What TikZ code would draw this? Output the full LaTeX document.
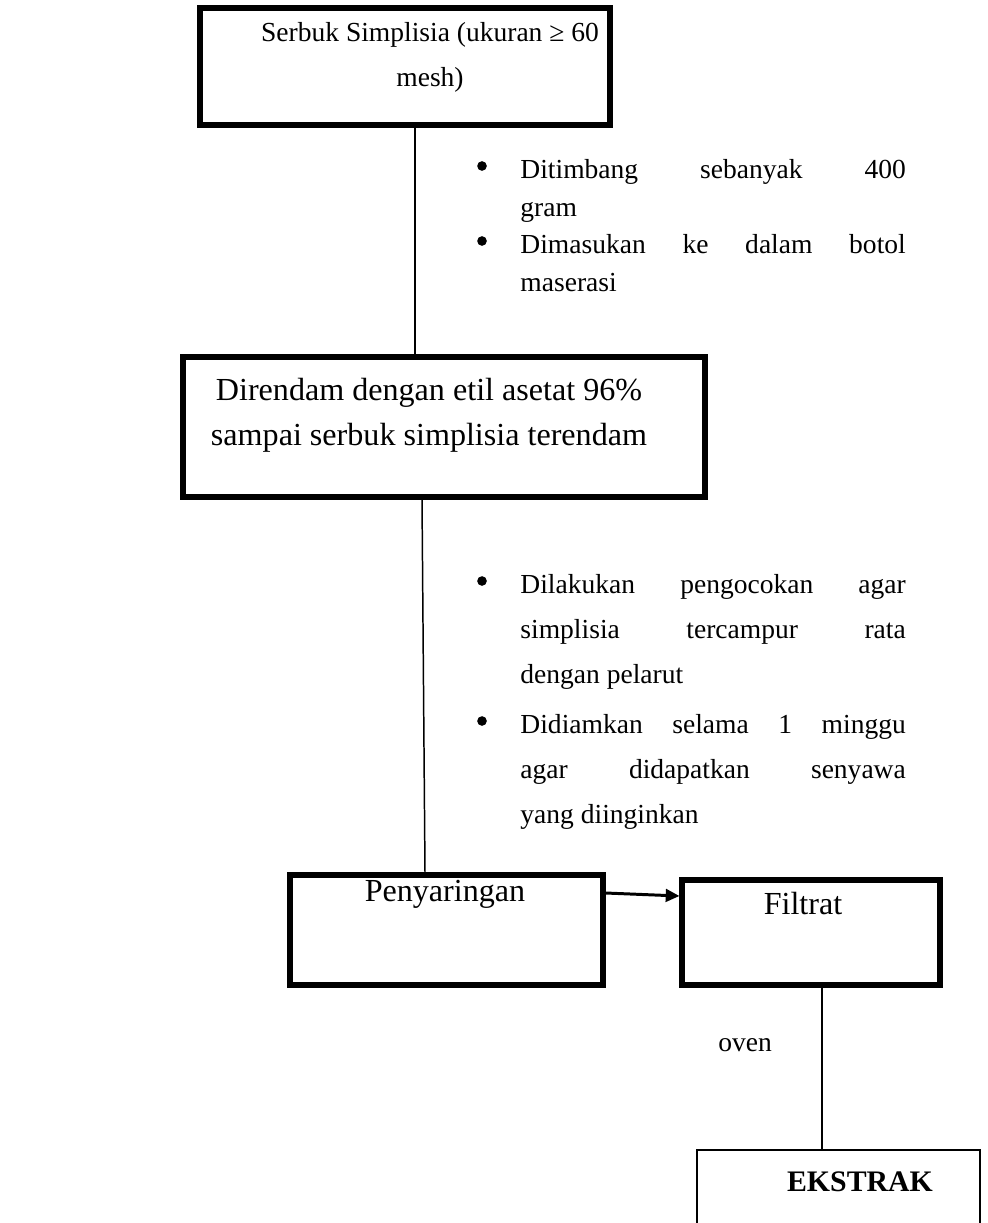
\documentclass[tikz,border=0pt]{standalone}
\usepackage{fontspec}
\setmainfont{Liberation Serif}
\usetikzlibrary{arrows.meta}
\newcommand{\px}{0.436pt}
\tolerance=10000
\hbadness=10000
\hyphenpenalty=10000
\tikzset{
  box/.style 2 args={draw, line width=2.2pt, minimum width=#1*\px, minimum height=#2*\px, inner sep=0pt},
  link/.style={line width=0.65pt},
  arrow/.style={-{Triangle[length=6pt, width=5.5pt]}, line width=1.3pt},
  txt/.style={align=center, inner sep=0pt, font=\fontsize{#1}{19.6}\selectfont},
  txt/.default=12,
}

\begin{document}
\begin{tikzpicture}[x=\px, y=-\px,
                    poin/.style={anchor=north west, inner sep=0pt, text width=168pt, align=justify,
                                 font=\fontsize{12}{#1}\selectfont},
                    dot/.style={circle, fill, inner sep=0pt, minimum size=4.2pt}]
  \useasboundingbox (0,0) rectangle (987,1223);
  % serbuk simplisia
  \node[box={410}{117}] (serbuk) at (405,66.5) {};
  \node[txt] (serbukT) at (430,57) {Serbuk Simplisia (ukuran ≥ 60\\mesh)};
  \node[dot] (d1) at (482,166) {};
  \node[poin=16.4pt] (p1) at (520,159) {Ditimbang sebanyak 400\linebreak gram};
  \node[dot] (d2) at (482,241) {};
  \node[poin=16.4pt] (p2) at (520,234) {Dimasukan ke dalam botol\linebreak maserasi};
  % perendaman
  \node[box={522}{140}] (rendam) at (444,427) {};
  \node[txt=14] (rendamT) at (429,415) {Direndam dengan etil asetat 96\%\\sampai serbuk simplisia terendam};
  \node[dot] (d3) at (482,581) {};
  \node[poin=19.6pt] (p3) at (520,574) {Dilakukan pengocokan agar\linebreak simplisia tercampur rata\linebreak dengan pelarut};
  \node[dot] (d4) at (482,721) {};
  \node[poin=19.6pt] (p4) at (520,714) {Didiamkan selama 1 minggu\linebreak agar didapatkan senyawa\linebreak yang diinginkan};
  % penyaringan, filtrat, ekstrak
  \node[box={313}{110}] (saring) at (446.5,930) {};
  \node[txt=14] (saringT) at (445,894) {Penyaringan};
  \node[box={258}{105}] (filtrat) at (811,932.5) {};
  \node[txt=14] (filtratT) at (803,904) {Filtrat};
  \node[txt] (oven) at (745,1045) {oven};
  \node[box={283}{100}, line width=0.9pt] (ekstrak) at (838.5,1200) {};
  \node[txt, font=\fontsize{13}{16}\selectfont\bfseries] (ekstrakT) at (860,1182) {EKSTRAK};

  \draw[link] (serbuk.south -| 415,0) -- (rendam.north -| 415,0);
  \draw[link] (rendam.south -| 422,0) -- (saring.north -| 425,0);
  \draw[arrow] (saring.east |- 0,893) -- (filtrat.west |- 0,896);
  \draw[link] (filtrat.south -| 822,0) -- (ekstrak.north -| 822,0);
\end{tikzpicture}
\end{document}
